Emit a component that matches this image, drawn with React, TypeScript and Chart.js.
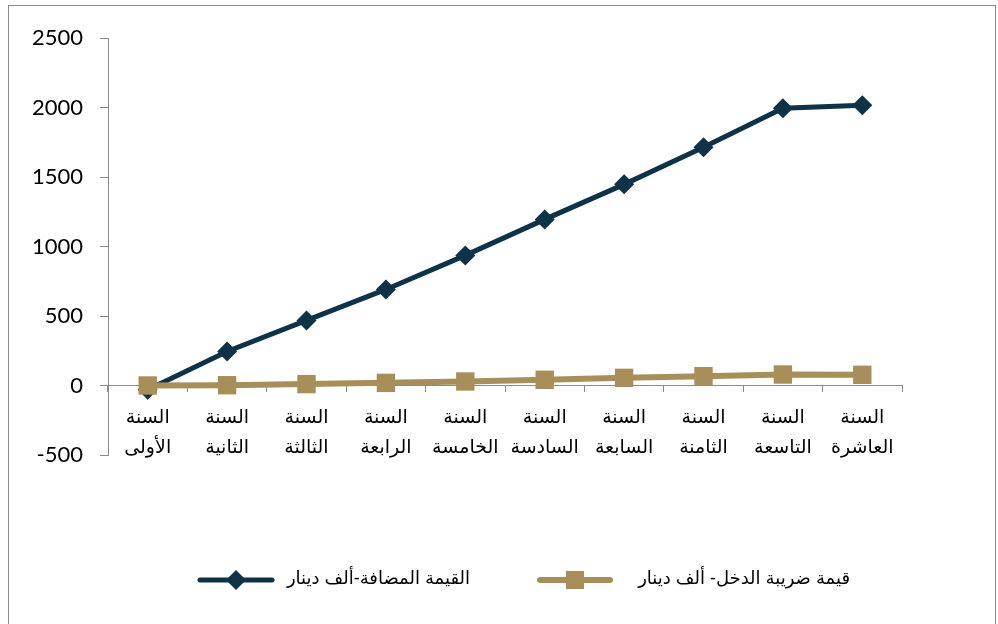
import React, { useEffect, useRef } from "react";
import { Chart, registerables } from "chart.js";

Chart.register(...registerables);

const categories: string[][] = [
  ["السنة", "الأولى"],
  ["السنة", "الثانية"],
  ["السنة", "الثالثة"],
  ["السنة", "الرابعة"],
  ["السنة", "الخامسة"],
  ["السنة", "السادسة"],
  ["السنة", "السابعة"],
  ["السنة", "الثامنة"],
  ["السنة", "التاسعة"],
  ["السنة", "العاشرة"],
];

const valueAddedLabel = "القيمة المضافة-ألف دينار";
const valueAdded = [-30, 245, 468, 691, 936, 1195, 1447, 1714, 1994, 2016];

const incomeTaxLabel = "قيمة ضريبة الدخل- ألف دينار";
const incomeTax = [0, 2, 10, 19, 29, 41, 55, 67, 79, 77];

const yMin = -500;
const yMax = 2500;
const yStep = 500;

const NAVY = "#0e3349";
const TAN = "#a88f59";
const AXIS = "#8a8a8a";

export default function App() {
  const ref = useRef<HTMLCanvasElement | null>(null);

  useEffect(() => {
    if (!ref.current) return;
    const chart = new Chart(ref.current, {
      type: "line",
      data: {
        labels: categories,
        datasets: [
          {
            label: valueAddedLabel,
            data: valueAdded,
            borderColor: NAVY,
            backgroundColor: NAVY,
            borderWidth: 5,
            pointStyle: "rectRot",
            pointRadius: 10,
            pointBorderWidth: 0,
            tension: 0,
            order: 1,
          },
          {
            label: incomeTaxLabel,
            data: incomeTax,
            borderColor: TAN,
            backgroundColor: TAN,
            borderWidth: 6,
            pointStyle: "rect",
            pointRadius: 13,
            pointBorderWidth: 0,
            tension: 0,
            order: 0,
          },
        ],
      },
      options: {
        responsive: false,
        animation: false,
        layout: { padding: { top: 38, left: 0, right: 96, bottom: 169 } },
        plugins: { legend: { display: false }, tooltip: { enabled: false } },
        scales: {
          x: {
            type: "category",
            position: { y: 0 } as any,
            offset: true,
            afterFit: (s: any) => {
              s.height = 0;
            },
            grid: {
              display: true,
              drawOnChartArea: false,
              offset: true,
              tickLength: 6,
              color: AXIS,
            },
            border: { color: AXIS, width: 1 },
            ticks: {
              color: "#000",
              font: { family: "'Liberation Sans', 'DejaVu Sans', Arial, sans-serif", size: 19, lineHeight: 1.55 },
              padding: 12,
              maxRotation: 0,
              autoSkip: false,
            },
          },
          y: {
            min: yMin,
            max: yMax,
            afterFit: (s: any) => {
              s.width = 108;
            },
            grid: {
              display: true,
              drawOnChartArea: false,
              tickLength: 8,
              color: AXIS,
            },
            border: { color: AXIS, width: 1 },
            ticks: {
              stepSize: yStep,
              color: "#000",
              font: { family: "Lato, 'Open Sans', sans-serif", size: 22 },
              padding: 17,
              callback: (v: any) => String(v),
            },
          },
        },
      },
    });
    return () => chart.destroy();
  }, []);

  const legendText: React.CSSProperties = {
    position: "absolute",
    top: 567,
    fontFamily: "'Liberation Sans', 'DejaVu Sans', Arial, sans-serif",
    fontSize: 18,
    color: "#000",
    whiteSpace: "nowrap",
    direction: "rtl",
  };

  return (
    <div style={{ position: "fixed", left: 0, top: 0, width: 998, height: 624, background: "#fff", overflow: "hidden" }}>
      <div
        style={{
          position: "absolute",
          left: 8,
          top: 5,
          width: 988,
          height: 660,
          border: `1px solid ${AXIS}`,
          boxSizing: "border-box",
        }}
      />
      <canvas ref={ref} width={998} height={624} style={{ position: "absolute", left: 0, top: 0 }} />
      <svg style={{ position: "absolute", left: 0, top: 560 }} width={998} height={40}>
        <line x1={200} y1={20} x2={272} y2={20} stroke={NAVY} strokeWidth={5} strokeLinecap="round" />
        <polygon points="236,10 246,20 236,30 226,20" fill={NAVY} />
        <line x1={540} y1={20} x2={610} y2={20} stroke={TAN} strokeWidth={6} strokeLinecap="round" />
        <rect x={566} y={11} width={18} height={18} fill={TAN} />
      </svg>
      <div style={{ ...legendText, left: 290, width: 180, textAlign: "right" }}>{valueAddedLabel}</div>
      <div style={{ ...legendText, left: 625, width: 225, textAlign: "right" }}>{incomeTaxLabel}</div>
    </div>
  );
}
